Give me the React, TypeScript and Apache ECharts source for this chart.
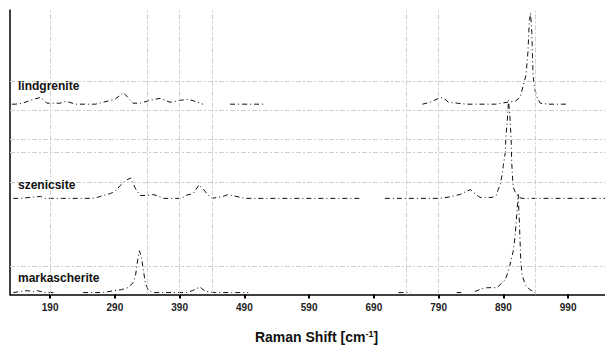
import React, { useEffect, useRef } from "react";
import * as echarts from "echarts";

// Raman shift tick labels (cm-1)
const tickValues = [190, 290, 390, 490, 590, 690, 790, 890, 990];
// dashed grid lines
const vGridValues = [190, 340, 390, 440, 740, 790, 940];
const hGridValues = [220, 190, 160, 146, 116, 29];

const seriesNames = ["lindgrenite", "szenicsite", "markascherite"];
const labelValues = [216, 117, 24];

// [Raman shift, offset intensity]
const lindgrenite: (number | null)[][] = [
  [131, 196], [136, 196], [148, 197], [159, 200], [175, 203], [179, 201], [185, 197],
  [205, 197], [215, 199], [229, 196], [247, 196], [260, 196], [278, 199], [290, 201],
  [298, 205], [303, 208], [310, 203], [318, 197], [329, 197], [344, 200], [360, 202],
  [375, 198], [391, 200], [403, 201], [414, 199], [426, 196], [447, null],
  [468, 196], [495, 196], [522, 196], [640, null],
  [765, 196], [777, 198], [793, 203], [800, 201], [805, 198], [819, 197], [834, 196],
  [851, 196], [878, 196], [896, 198], [908, 199], [916, 203], [921, 216], [925, 226],
  [928, 250], [930, 280], [932, 290], [934, 270], [935, 245], [936, 225], [939, 210],
  [942, 203], [947, 197], [959, 196], [975, 196], [989, 196],
];

const szenicsite: (number | null)[][] = [
  [133, 99], [144, 99], [159, 100], [175, 101], [182, 99], [209, 99], [218, 99],
  [241, 99], [255, 99], [263, 100], [272, 102], [283, 104], [290, 106], [298, 112],
  [306, 117], [314, 120], [318, 115], [321, 110], [329, 102], [340, 102], [348, 103],
  [355, 102], [365, 99], [394, 99], [399, 102], [411, 104], [420, 113], [426, 109],
  [433, 103], [440, 99], [457, 101], [465, 103], [471, 102], [484, 100], [491, 99],
  [504, 99], [517, 99], [576, 99], [669, 99], [688, null], [707, 99], [761, 99],
  [789, 99], [803, 100], [823, 103], [832, 106], [839, 108], [846, 104], [854, 100],
  [873, 100], [879, 102], [882, 108], [885, 113], [888, 123], [890, 133], [893, 146],
  [894, 163], [896, 178], [898, 200], [900, 185], [902, 160], [903, 135], [905, 111],
  [908, 106], [911, 103], [914, 100], [919, 99], [934, 99], [965, 99], [998, 99],
  [1047, 99],
];

const markascherite: (number | null)[][] = [
  [133, 2], [144, 3], [154, 4], [164, 3], [170, 4], [182, 2], [195, 2], [218, null],
  [241, 2], [270, 2], [290, 4], [300, 5], [310, 7], [318, 12], [322, 20], [325, 35],
  [328, 45], [331, 38], [334, 25], [337, 12], [342, 4], [350, 2], [380, 2], [400, 2],
  [410, 4], [416, 6], [421, 8], [426, 5], [432, 3], [445, 2], [470, 2], [496, 2],
  [610, null], [728, 2], [747, 2], [780, null], [818, 2], [825, 2], [832, null],
  [846, 3], [857, 6], [865, 7], [880, 7], [888, 12], [893, 15], [897, 23], [900, 30],
  [905, 44], [908, 59], [911, 85], [913, 103], [915, 70], [917, 33], [919, 20],
  [924, 10], [931, 5], [939, 2],
];

const seriesData = [lindgrenite, szenicsite, markascherite];

export default function App() {
  const ref = useRef<HTMLDivElement>(null);
  useEffect(() => {
    document.body.style.margin = "0";
    const chart = echarts.init(ref.current!, undefined, { renderer: "svg" });
    const gridStyle = { color: "#cfcfcf", width: 1, type: [5, 2, 2, 2] as any };
    chart.setOption({
      animation: false,
      backgroundColor: "#ffffff",
      grid: { left: 10, right: 0, top: 10, bottom: 46 },
      xAxis: {
        type: "value",
        min: 128,
        max: 1047,
        name: "Raman Shift [cm{sup|-1}]",
        nameLocation: "middle",
        nameGap: 35,
        nameTextStyle: {
          fontFamily: "Liberation Sans",
          fontWeight: "bold",
          fontSize: 14,
          color: "#111",
          padding: [0, 0, 0, 18],
          rich: {
            sup: { fontSize: 9, fontWeight: "bold", verticalAlign: "top", color: "#111", padding: [0, 0, 6, 0] },
          },
        },
        axisLine: { show: true, lineStyle: { color: "#000", width: 1.5 } },
        axisTick: { show: true, length: 4, customValues: tickValues, lineStyle: { color: "#000", width: 2 } },
        axisLabel: {
          customValues: tickValues,
          margin: 8,
          fontFamily: "Liberation Sans",
          fontWeight: "bold",
          fontSize: 10,
          color: "#222",
        },
        splitLine: { show: false },
      },
      yAxis: {
        type: "value",
        min: 0,
        max: 293,
        axisLine: { show: true, lineStyle: { color: "#000", width: 1.5 } },
        axisTick: { show: false },
        axisLabel: { show: false },
        splitLine: { show: false },
      },
      series: [
        {
          type: "line",
          data: [],
          z: 1,
          silent: true,
          markLine: {
            silent: true,
            symbol: "none",
            label: { show: false },
            lineStyle: gridStyle,
            data: [
              ...vGridValues.map((v) => ({ xAxis: v })),
              ...hGridValues.map((v) => ({ yAxis: v })),
            ],
          },
        },
        ...seriesNames.map((name, i) => ({
          name,
          type: "line",
          data: seriesData[i],
          z: 3,
          showSymbol: false,
          connectNulls: false,
          lineStyle: { color: "#111", width: 1, type: [5, 3, 1, 3] },
          label: { show: false },
          endLabel: { show: false },
        })),
      ],
      graphic: seriesNames.map((name, i) => ({
        type: "text",
        left: 18,
        top: 303 - labelValues[i] - 7,
        style: {
          text: name,
          font: "bold 12px 'Liberation Sans'",
          fill: "#111",
        },
        z: 10,
      })),
    });
    return () => chart.dispose();
  }, []);
  return (
    <div
      ref={ref}
      style={{ width: 605, height: 349, position: "absolute", left: 0, top: 0 }}
    />
  );
}
